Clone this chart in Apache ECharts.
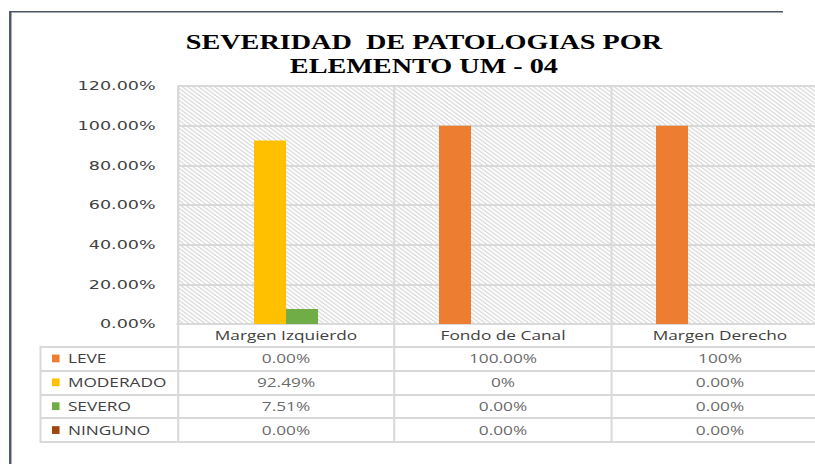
<!DOCTYPE html>
<html>
<head>
<meta charset="utf-8">
<script src="https://cdn.jsdelivr.net/npm/echarts@6/dist/echarts.min.js"></script>
<style>
html, body { margin: 0; padding: 0; width: 815px; height: 464px; overflow: hidden; background: #fff; }
#wrap { width: 815px; height: 464px; overflow: hidden; position: relative; }
/* the chart is laid out narrow and widened horizontally */
#chart { width: 616px; height: 464px; transform: scaleX(1.35); transform-origin: 0 0; }
</style>
</head>
<body>
<div id="wrap"><div id="chart"></div></div>
<script>
const categories = ['Margen Izquierdo', 'Fondo de Canal', 'Margen Derecho'];
const seriesNames = ['LEVE', 'MODERADO', 'SEVERO', 'NINGUNO'];
const leve = [0, 100, 100];
const moderado = [92.49, 0, 0];
const severo = [7.51, 0, 0];
const ninguno = [0, 0, 0];
// number of decimals printed in each data-table cell
const leveDecimals = [2, 2, 0];
const moderadoDecimals = [2, 0, 2];
const severoDecimals = [2, 2, 2];
const ningunoDecimals = [2, 2, 2];
const yTicks = [0, 20, 40, 60, 80, 100, 120];
const seriesColors = ['#ed7d31', '#ffc000', '#70ad47', '#9e480e'];

const rows = [leve, moderado, severo, ninguno];
const rowDecimals = [leveDecimals, moderadoDecimals, severoDecimals, ningunoDecimals];

// light downward-diagonal hatch for the plot background
const tile = document.createElement('canvas');
tile.width = 4; tile.height = 4;
const tctx = tile.getContext('2d');
tctx.fillStyle = '#ffffff';
tctx.fillRect(0, 0, 4, 4);
for (let i = 0; i < 4; i++) {
  tctx.fillStyle = '#d6d6d6';
  tctx.fillRect(i, i, 1, 1);
  tctx.fillStyle = '#ededed';
  tctx.fillRect((i + 1) % 4, i, 1, 1);
}
const hatch = tile.toDataURL();

const gridGray = '#d9d9d9';
const textGray = '#404040';
const tableFont = 'Open Sans';
const frameColor = '#4a5568';

// data-table cells: [column, row, value, decimals]
const cells = [];
rows.forEach((vals, r) => vals.forEach((v, c) => cells.push([c, r, v, rowDecimals[r][c]])));

const rich = { t: { fontFamily: tableFont, fontSize: 12.8, color: textGray, padding: [0, 0, 0, 6.2] } };
seriesColors.forEach((c, i) => {
  rich['s' + i] = { width: 5.6, height: 7.8, backgroundColor: c };
});

const chart = echarts.init(document.getElementById('chart'), null, { renderer: 'svg' });

chart.setOption({
  animation: false,
  backgroundColor: '#ffffff',
  title: {
    text: 'SEVERIDAD  DE PATOLOGIAS POR\nELEMENTO UM - 04',
    left: 314,
    top: 30.5,
    textAlign: 'center',
    padding: 0,
    textStyle: {
      fontFamily: 'Liberation Serif',
      fontWeight: 'bold',
      fontSize: 20.9,
      lineHeight: 23.5,
      color: '#000000'
    }
  },
  graphic: [
    // outer chart frame (left and top edges)
    {
      type: 'line',
      shape: { x1: 7.6, y1: 11.7, x2: 7.6, y2: 470 },
      style: { stroke: frameColor, lineWidth: 1.8 },
      silent: true
    },
    {
      type: 'line',
      shape: { x1: 6.7, y1: 11.7, x2: 580, y2: 11.7 },
      style: { stroke: frameColor, lineWidth: 1.6 },
      silent: true
    },
    // left edge of the data table
    {
      type: 'line',
      shape: { x1: 30, y1: 345.5, x2: 30, y2: 443 },
      style: { stroke: gridGray, lineWidth: 1.5 },
      silent: true
    }
  ],
  grid: [
    {
      left: 131.5, right: 2.3, top: 86, height: 238,
      show: true, borderWidth: 0,
      backgroundColor: { image: hatch, repeat: 'repeat' }
    },
    { left: 131.5, right: 2.3, top: 346.5, height: 95.5 }
  ],
  xAxis: [
    {
      gridIndex: 0,
      type: 'category',
      data: categories,
      axisLine: { show: true, lineStyle: { color: gridGray, width: 2 } },
      axisTick: { show: true, interval: 0, length: 22.5, lineStyle: { color: gridGray, width: 1.5 } },
      axisLabel: { interval: 0, margin: 4, lineHeight: 14, fontFamily: tableFont, fontSize: 12.8, color: textGray },
      splitLine: { show: true, interval: 0, lineStyle: { color: gridGray, width: 1.5 } }
    },
    {
      gridIndex: 1,
      type: 'category',
      data: categories,
      axisLine: { show: false },
      axisTick: { show: false },
      axisLabel: { show: false },
      splitLine: { show: true, interval: 0, lineStyle: { color: gridGray, width: 1.5 } }
    }
  ],
  yAxis: [
    {
      gridIndex: 0,
      type: 'value',
      min: yTicks[0],
      max: yTicks[yTicks.length - 1],
      interval: yTicks[1] - yTicks[0],
      axisLine: { show: true, lineStyle: { color: gridGray, width: 1.5 } },
      axisTick: { show: false },
      axisLabel: {
        margin: 16.2,
        fontFamily: 'DejaVu Sans',
        fontSize: 13,
        color: textGray,
        formatter: v => v.toFixed(2) + '%'
      },
      splitLine: { show: true, lineStyle: { color: gridGray, width: 2 } }
    },
    {
      gridIndex: 1,
      type: 'category',
      data: seriesNames,
      inverse: true,
      axisLine: { show: false },
      axisTick: { show: true, interval: 0, length: 101.5, lineStyle: { color: gridGray, width: 2 } },
      axisLabel: {
        interval: 0,
        margin: 93,
        align: 'left',
        formatter: (v, i) => '{s' + i + '| }{t|' + v + '}',
        rich: rich
      },
      splitLine: { show: true, interval: 0, lineStyle: { color: gridGray, width: 2 } }
    }
  ],
  series: [
    ...rows.map((vals, i) => ({
      name: seriesNames[i],
      type: 'bar',
      xAxisIndex: 0,
      yAxisIndex: 0,
      data: vals,
      barWidth: 23.7,
      barGap: '0%',
      itemStyle: { color: seriesColors[i] },
      silent: true
    })),
    {
      type: 'scatter',
      xAxisIndex: 1,
      yAxisIndex: 1,
      data: cells,
      encode: { x: 0, y: 1 },
      symbol: 'rect',
      symbolSize: 1,
      itemStyle: { color: 'rgba(0,0,0,0)' },
      silent: true,
      label: {
        show: true,
        position: 'inside',
        fontFamily: tableFont,
        fontSize: 12.8,
        color: textGray,
        formatter: p => p.data[2].toFixed(p.data[3]) + '%'
      }
    }
  ]
});
</script>
</body>
</html>
